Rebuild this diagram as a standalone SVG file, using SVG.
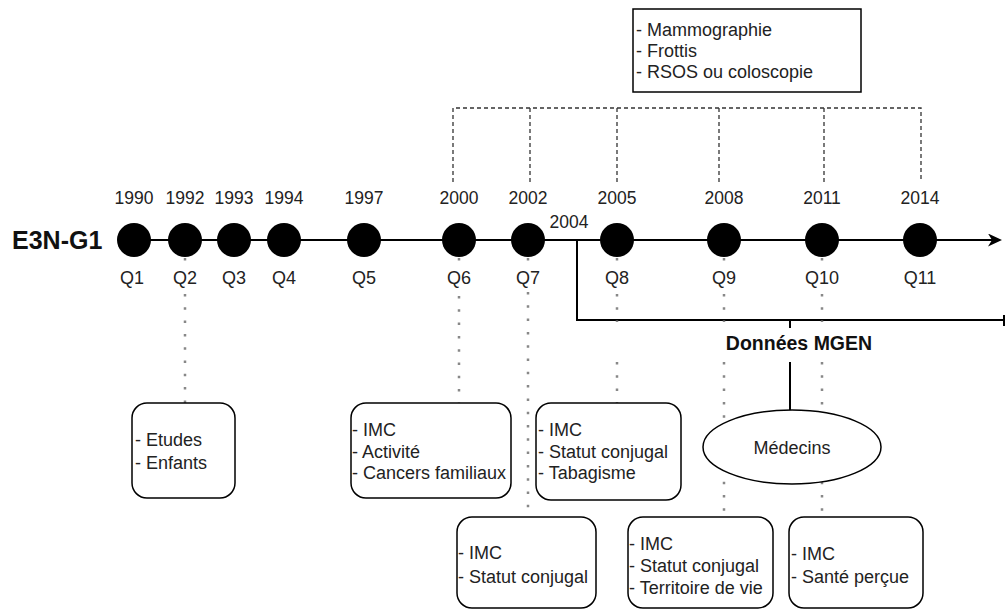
<svg xmlns="http://www.w3.org/2000/svg" width="1006" height="612" viewBox="0 0 1006 612">
<defs>
<marker id="arr" viewBox="0 0 14 13" refX="4" refY="6.5" markerWidth="14" markerHeight="13" markerUnits="userSpaceOnUse" orient="auto">
<path d="M0,0 L14,6.5 L0,13 L4,6.5 Z" fill="#000"/>
</marker>
<style>
text { font-family: "Liberation Sans", Arial, sans-serif; fill: #222; }
.yr { font-size: 17.5px; text-anchor: middle; }
.q { font-size: 18px; text-anchor: middle; }
.bt { font-size: 18px; }
.box { fill: #fff; stroke: #000; stroke-width: 1.5; }
.dot { fill: none; stroke: #888; stroke-width: 2.5; stroke-dasharray: 2.5 10.8; }
.dash { fill: none; stroke: #333; stroke-width: 1.3; stroke-dasharray: 4 3; }
.solid { fill: none; stroke: #000; stroke-width: 2; }
.pt { fill: #000; }
</style>
</defs>
<rect width="1006" height="612" fill="#fff"/>

<g id="connectors">
  <line class="solid" x1="134" y1="240" x2="992" y2="240" marker-end="url(#arr)"/>
  <path class="dash" d="M453 182 V108 H921 V182 M530 108 V182 M617 108 V182 M719 108 V182 M824 108 V182"/>
  <path class="solid" d="M577 240 V320 H1003 M1004 315 V326"/>
  <path class="solid" d="M790 320 V328 M790 362 V410"/>
  <path class="dot" d="M185 258 V262 M185 294 V403"/>
  <path class="dot" d="M459 258 V262 M459 296 V403"/>
  <path class="dot" d="M528 258 V266 M528 292 V517"/>
  <path class="dot" d="M617 258 V262 M617 294 V322 M617 362 V403"/>
  <path class="dot" d="M724 258 V262 M724 294 V322 M724 362 V517"/>
  <path class="dot" d="M822 258 V262 M822 294 V322 M822 362 V517"/>
</g>

<g id="label-e3n"><text x="12" y="249" style="font-size:25px;font-weight:bold;fill:#111">E3N-G1</text></g>

<g id="q1"><circle class="pt" cx="134" cy="240" r="17"/><text class="yr" x="134" y="204">1990</text><text class="q" x="132" y="284">Q1</text></g>
<g id="q2"><circle class="pt" cx="185" cy="240" r="17"/><text class="yr" x="185" y="204">1992</text><text class="q" x="185" y="284">Q2</text></g>
<g id="q3"><circle class="pt" cx="234" cy="240" r="17"/><text class="yr" x="234" y="204">1993</text><text class="q" x="234" y="284">Q3</text></g>
<g id="q4"><circle class="pt" cx="284" cy="240" r="17"/><text class="yr" x="284" y="204">1994</text><text class="q" x="284" y="284">Q4</text></g>
<g id="q5"><circle class="pt" cx="364" cy="240" r="17"/><text class="yr" x="364" y="204">1997</text><text class="q" x="364" y="284">Q5</text></g>
<g id="q6"><circle class="pt" cx="459" cy="240" r="17"/><text class="yr" x="459" y="204">2000</text><text class="q" x="459" y="284">Q6</text></g>
<g id="q7"><circle class="pt" cx="528" cy="240" r="17"/><text class="yr" x="528" y="204">2002</text><text class="q" x="528" y="284">Q7</text></g>
<g id="q8"><circle class="pt" cx="617" cy="240" r="17"/><text class="yr" x="617" y="204">2005</text><text class="q" x="617" y="284">Q8</text></g>
<g id="q9"><circle class="pt" cx="724" cy="240" r="17"/><text class="yr" x="724" y="204">2008</text><text class="q" x="724" y="284">Q9</text></g>
<g id="q10"><circle class="pt" cx="822" cy="240" r="17"/><text class="yr" x="822" y="204">2011</text><text class="q" x="822" y="284">Q10</text></g>
<g id="q11"><circle class="pt" cx="920" cy="240" r="17"/><text class="yr" x="920" y="204">2014</text><text class="q" x="920" y="284">Q11</text></g>

<g id="label-2004"><text class="yr" x="569" y="228">2004</text></g>

<g id="depistage">
  <rect x="633" y="9" width="228" height="83" fill="#fff" stroke="#000" stroke-width="1.5"/>
  <text class="bt" x="636" y="36">- Mammographie</text>
  <text class="bt" x="636" y="57">- Frottis</text>
  <text class="bt" x="636" y="78">- RSOS ou coloscopie</text>
</g>

<g id="mgen"><text x="799" y="350" style="font-size:19.5px;font-weight:bold;text-anchor:middle;fill:#111">Données MGEN</text></g>

<g id="medecins">
  <ellipse cx="792" cy="447" rx="89" ry="37" fill="#fff" stroke="#000" stroke-width="1.5"/>
  <text x="792" y="454" style="font-size:18px;text-anchor:middle">Médecins</text>
</g>

<g id="box-q2">
  <rect class="box" x="132" y="403" width="103" height="95" rx="15"/>
  <text class="bt" x="135" y="446">- Etudes</text>
  <text class="bt" x="135" y="469">- Enfants</text>
</g>
<g id="box-q6">
  <rect class="box" x="351" y="403" width="160" height="95" rx="15"/>
  <text class="bt" x="352" y="436">- IMC</text>
  <text class="bt" x="352" y="458">- Activité</text>
  <text class="bt" x="352" y="479">- Cancers familiaux</text>
</g>
<g id="box-q8">
  <rect class="box" x="536" y="403" width="145" height="97" rx="15"/>
  <text class="bt" x="538" y="436">- IMC</text>
  <text class="bt" x="538" y="458">- Statut conjugal</text>
  <text class="bt" x="538" y="479">- Tabagisme</text>
</g>
<g id="box-q7">
  <rect class="box" x="457" y="517" width="139" height="91" rx="15"/>
  <text class="bt" x="458" y="559">- IMC</text>
  <text class="bt" x="458" y="583">- Statut conjugal</text>
</g>
<g id="box-q9">
  <rect class="box" x="628" y="517" width="145" height="91" rx="15"/>
  <text class="bt" x="629" y="550">- IMC</text>
  <text class="bt" x="629" y="572">- Statut conjugal</text>
  <text class="bt" x="629" y="594">- Territoire de vie</text>
</g>
<g id="box-q10">
  <rect class="box" x="789" y="517" width="134" height="91" rx="15"/>
  <text class="bt" x="791" y="560">- IMC</text>
  <text class="bt" x="791" y="583">- Santé perçue</text>
</g>
</svg>
